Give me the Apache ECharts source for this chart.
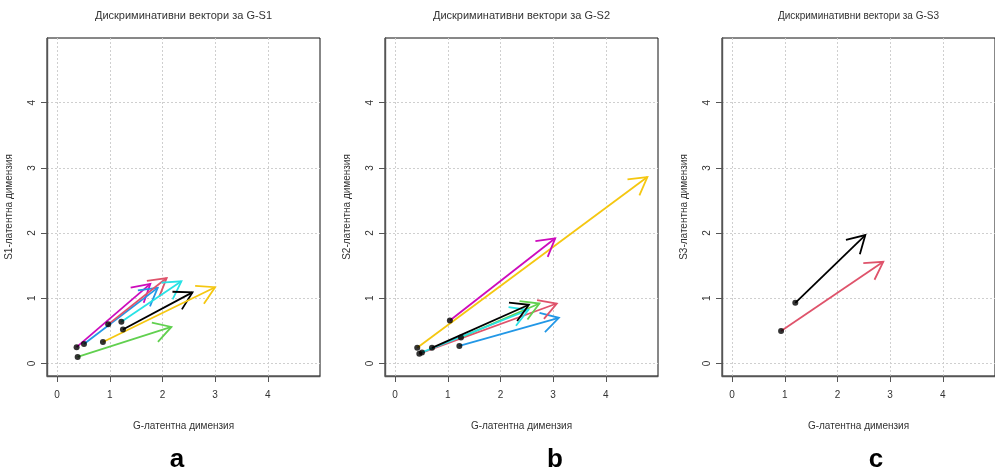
<!DOCTYPE html>
<html>
<head>
<meta charset="utf-8">
<script src="https://cdn.jsdelivr.net/npm/echarts@6/dist/echarts.min.js"></script>
<style>
  html, body { margin: 0; padding: 0; background: #fff; }
  #main { width: 995px; height: 472px; }
</style>
</head>
<body>
<div id="main"></div>
<script>
// R palette colours used by the vectors
var palette = {
  black: '#000000', pink: '#DF536B', green: '#61D04F', blue: '#2297E6',
  cyan: '#28E2E5', magenta: '#CD0BBC', yellow: '#F5C710'
};

var ticks = [0, 1, 2, 3, 4];

// panel a : G-S1
var aGroup = ['magenta', 'blue', 'pink', 'cyan', 'black', 'yellow', 'green'];
var aX0 = [0.37, 0.51, 0.97, 1.22, 1.25, 0.87, 0.39];
var aY0 = [0.25, 0.30, 0.60, 0.64, 0.52, 0.33, 0.10];
var aX1 = [1.77, 1.91, 2.08, 2.36, 2.57, 3.00, 2.17];
var aY1 = [1.22, 1.16, 1.31, 1.26, 1.09, 1.17, 0.56];

// panel b : G-S2
var bGroup = ['yellow', 'magenta', 'blue', 'pink', 'green', 'cyan', 'black'];
var bX0 = [0.42, 1.04, 1.22, 0.46, 1.25, 0.51, 0.70];
var bY0 = [0.24, 0.66, 0.27, 0.15, 0.40, 0.17, 0.24];
var bX1 = [4.79, 3.04, 3.11, 3.07, 2.74, 2.53, 2.54];
var bY1 = [2.86, 1.92, 0.70, 0.92, 0.92, 0.82, 0.90];

// panel c : G-S3
var cGroup = ['black', 'pink'];
var cX0 = [1.20, 0.93];
var cY0 = [0.93, 0.50];
var cX1 = [2.53, 2.87];
var cY1 = [1.97, 1.56];

var panels = [
  {title: 'Дискриминативни вектори за G-S1', yName: 'S1-латентна димензия', letter: 'a',
   g: aGroup, x0: aX0, y0: aY0, x1: aX1, y1: aY1},
  {title: 'Дискриминативни вектори за G-S2', yName: 'S2-латентна димензия', letter: 'b',
   g: bGroup, x0: bX0, y0: bY0, x1: bX1, y1: bY1},
  {title: 'Дискриминативни вектори за G-S3', yName: 'S3-латентна димензия', letter: 'c',
   g: cGroup, x0: cX0, y0: cY0, x1: cX1, y1: cY1}
];

var gridLeft = [47, 385, 722];
var gridW = 273, gridTop = 38, gridH = 338;
var titleSize = [11, 11, 10];
var letterX = [177, 555, 876];

function renderArrow(params, api) {
  var p0 = api.coord([api.value(0), api.value(1)]);
  var p1 = api.coord([api.value(2), api.value(3)]);
  var col = api.visual('color');
  var ang = Math.atan2(p1[1] - p0[1], p1[0] - p0[0]);
  var L = 20, spread = Math.PI / 6;
  var h1 = [p1[0] - L * Math.cos(ang - spread), p1[1] - L * Math.sin(ang - spread)];
  var h2 = [p1[0] - L * Math.cos(ang + spread), p1[1] - L * Math.sin(ang + spread)];
  var st = {stroke: col, lineWidth: 1.8, fill: null};
  return {
    type: 'group',
    children: [
      {type: 'polyline', shape: {points: [p0, p1]}, style: st},
      {type: 'polyline', shape: {points: [h1, p1, h2]}, style: st}
    ]
  };
}

var grids = [], xAxes = [], yAxes = [], series = [], graphics = [];
panels.forEach(function (p, i) {
  grids.push({left: gridLeft[i], top: gridTop, width: gridW, height: gridH,
    show: true, borderColor: '#111', borderWidth: 1, backgroundColor: 'transparent'});
  var common = {
    gridIndex: i, type: 'value', min: -0.192, max: 4.992,
    nameLocation: 'middle',
    nameTextStyle: {fontSize: 10, color: '#333', fontFamily: 'Liberation Sans'},
    axisLine: {show: true, onZero: false, lineStyle: {color: '#555', width: 1.4}},
    axisTick: {show: true, inside: false, length: 6, customValues: ticks, lineStyle: {color: '#555'}},
    axisLabel: {customValues: ticks, fontSize: 10, color: '#333', fontFamily: 'Liberation Sans'},
    splitLine: {show: true, lineStyle: {color: '#cfcfcf', type: [2, 2], width: 1}}
  };
  xAxes.push(Object.assign({}, common, {
    name: 'G-латентна димензия', nameGap: 45,
    axisLabel: Object.assign({}, common.axisLabel, {margin: 14})
  }));
  yAxes.push(Object.assign({}, common, {
    name: p.yName, nameGap: 33,
    axisLabel: Object.assign({}, common.axisLabel, {rotate: 90, margin: 10})
  }));
  var arrows = p.g.map(function (g, k) {
    return {value: [p.x0[k], p.y0[k], p.x1[k], p.y1[k]], itemStyle: {color: palette[g]}};
  });
  series.push({type: 'custom', xAxisIndex: i, yAxisIndex: i, renderItem: renderArrow,
    data: arrows, z: 2, clip: false, silent: true});
  series.push({type: 'scatter', xAxisIndex: i, yAxisIndex: i, symbolSize: 6,
    itemStyle: {color: '#000'}, z: 3, silent: true,
    data: p.x0.map(function (x, k) { return [x, p.y0[k]]; })});
  graphics.push({type: 'text', x: gridLeft[i] + gridW / 2, y: 16,
    style: {text: p.title, fontSize: titleSize[i], fill: '#333', fontFamily: 'Liberation Sans',
      textAlign: 'center', textVerticalAlign: 'middle'}});
  graphics.push({type: 'text', x: letterX[i], y: 460,
    style: {text: p.letter, fontSize: 26, fontWeight: 'bold', fill: '#000', fontFamily: 'Liberation Sans',
      textAlign: 'center', textVerticalAlign: 'middle'}});
});

var chart = echarts.init(document.getElementById('main'), null, {renderer: 'canvas'});
chart.setOption({
  animation: false,
  backgroundColor: '#fff',
  grid: grids,
  xAxis: xAxes,
  yAxis: yAxes,
  series: series,
  graphic: graphics
});
</script>
</body>
</html>
